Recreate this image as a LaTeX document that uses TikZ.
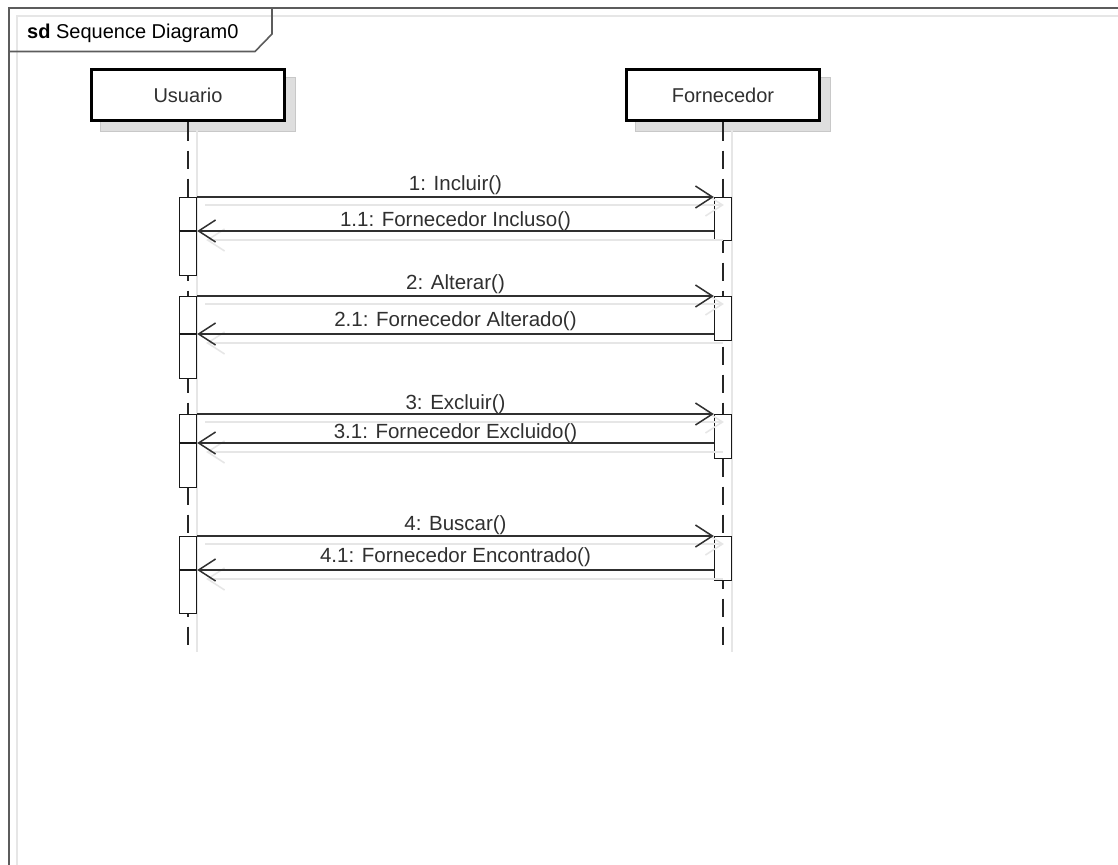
\documentclass[tikz,border=0pt]{standalone}
\usepackage{fontspec}
\setmainfont{Liberation Sans}
\usetikzlibrary{arrows.meta}
\definecolor{framegray}{HTML}{5C5C5C}
\definecolor{shadowgray}{HTML}{DEDEDE}
\definecolor{lightline}{HTML}{E6E6E6}
\definecolor{inkgray}{HTML}{303030}
\begin{document}
\begin{tikzpicture}[x=1pt,y=-1pt,
  lifebox/.style={draw=black, line width=3pt, fill=white, minimum width=193pt, minimum height=51pt, inner sep=0pt, font=\fontsize{20}{24}\selectfont, text=inkgray},
  boxshadow/.style={draw=shadowgray!90!black, line width=1pt, fill=shadowgray, minimum width=195pt, minimum height=53pt, inner sep=0pt},
  lifeline/.style={draw=black!85, line width=1.6pt, dash pattern=on 18pt off 10pt},
  lifeshadow/.style={draw=lightline, line width=1.6pt},
  actbar/.style={draw=black!90, line width=1.4pt, fill=white, minimum width=17pt, inner sep=0pt, anchor=north},
  barsplit/.style={draw=black!90, line width=1.4pt},
  msg/.style={draw=inkgray, line width=1.8pt, -{Straight Barb[length=17pt,width=22pt,line width=1.5pt]}},
  msgshadow/.style={draw=lightline, line width=1.8pt, -{Straight Barb[length=17pt,width=22pt,line width=1.5pt]}},
  lbl/.style={font=\fontsize{20.5}{24}\selectfont, text=inkgray, inner sep=0pt}
]
\useasboundingbox (0,0) rectangle (1118,864);
\fill[white] (0,0) rectangle (1118,864);
\clip (0,0) rectangle (1118,864);

% frame
\coordinate (fa) at (17,900);
\coordinate (fb) at (17,16);
\coordinate (fc) at (1140,16);
\draw[lightline, line width=2pt] (fa) -- (fb) -- (fc);
\coordinate (ga) at (9,900);
\coordinate (gb) at (9,8);
\coordinate (gc) at (1140,8);
\draw[framegray, line width=2.6pt] (ga) -- (gb) -- (gc);
\coordinate (ta) at (9,51.5);
\coordinate (tb) at (255,51.5);
\coordinate (tc) at (272,34);
\coordinate (td) at (272,8);
\draw[framegray, line width=1.6pt] (ta) -- (tb) -- (tc) -- (td);
\node[anchor=base west, inner sep=0pt, font=\fontsize{20}{24}\selectfont, text=black] (title) at (27,38.3) {\textbf{sd} Sequence Diagram0};

% participants
\node[boxshadow] (us) at (198,104.5) {};
\node[boxshadow] (fs) at (733,104.5) {};
\node[lifebox] (u) at (188,95.5) {Usuario};
\node[lifebox] (f) at (723,95.5) {Fornecedor};

% lifelines
\coordinate (usa) at (197,130);
\coordinate (usb) at (197,652);
\coordinate (fsa) at (732,130);
\coordinate (fsb) at (732,652);
\draw[lifeshadow] (usa) -- (usb);
\draw[lifeshadow] (fsa) -- (fsb);
\coordinate (uend) at (188,645);
\coordinate (fend) at (723,645);
\draw[lifeline] (u) -- (uend);
\draw[lifeline] (f) -- (fend);

% activation bars
\node[actbar, minimum height=78pt] (ub1) at (188,197) {};
\node[actbar, minimum height=82pt] (ub2) at (188,296) {};
\node[actbar, minimum height=73pt] (ub3) at (188,414) {};
\node[actbar, minimum height=77pt] (ub4) at (188,536) {};
\node[actbar, minimum height=43pt] (fb1) at (723,197) {};
\node[actbar, minimum height=44pt] (fb2) at (723,296) {};
\node[actbar, minimum height=44pt] (fb3) at (723,414) {};
\node[actbar, minimum height=44pt] (fb4) at (723,536) {};

% return levels
\coordinate (r1) at (0,231);
\coordinate (r2) at (0,334);
\coordinate (r3) at (0,443);
\coordinate (r4) at (0,570);
\draw[barsplit] (ub1.west |- r1) -- (ub1.east |- r1);
\draw[barsplit] (ub2.west |- r2) -- (ub2.east |- r2);
\draw[barsplit] (ub3.west |- r3) -- (ub3.east |- r3);
\draw[barsplit] (ub4.west |- r4) -- (ub4.east |- r4);

% message shadows
\foreach \i in {1,2,3,4}{
  \draw[msgshadow] ([shift={(8,8)}]ub\i.north east) -- ([shift={(10,8)}]fb\i.north west);
  \draw[msgshadow] ([shift={(9,9)}]fb\i.west |- r\i) -- ([shift={(9,9)}]ub\i.east |- r\i);
}

% messages
\foreach \i in {1,2,3,4}{
  \draw[msg] (ub\i.north east) -- (fb\i.north west);
  \draw[msg] (fb\i.west |- r\i) -- (ub\i.east |- r\i);
}

% labels
\node[lbl] (l1) at (455.5,185) {1: Incluir()};
\node[lbl] (l11) at (455.5,221) {1.1: Fornecedor Incluso()};
\node[lbl] (l2) at (455.5,284.5) {2: Alterar()};
\node[lbl] (l21) at (455.5,321.5) {2.1: Fornecedor Alterado()};
\node[lbl] (l3) at (455.5,404) {3: Excluir()};
\node[lbl] (l31) at (455.5,433) {3.1: Fornecedor Excluido()};
\node[lbl] (l4) at (455.5,525.5) {4: Buscar()};
\node[lbl] (l41) at (455.5,557) {4.1: Fornecedor Encontrado()};
\end{tikzpicture}
\end{document}
